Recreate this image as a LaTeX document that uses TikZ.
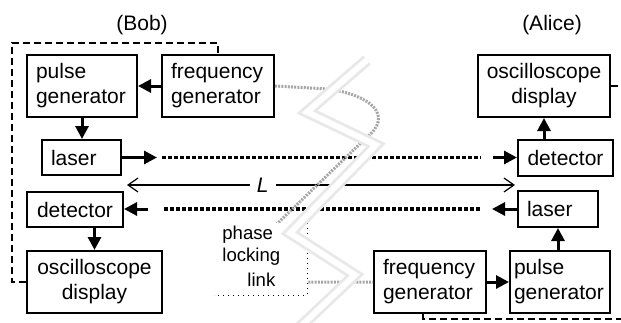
\documentclass[tikz,border=0pt]{standalone}
\usepackage{fontspec}
\setmainfont{Liberation Sans}
\usetikzlibrary{arrows.meta,positioning}

\begin{document}
\begin{tikzpicture}
	[x=0.5pt,y=-0.5pt,
	box/.style={draw=black,line width=1pt,inner ysep=0pt,inner xsep=4.5pt,
		minimum height=31pt,font=\fontsize{10.5}{12.5}\selectfont},
	lbox/.style={box,align=left,text width=#1},
	cbox/.style={box,align=center,minimum width=#1},
	arr/.style={line width=1.5pt,-{Triangle[length=6.5pt,width=6.5pt]}},
	fiber/.style={line width=1.6pt,dash pattern=on 2pt off 1pt},
	lock/.style={gray!70,line width=1.5pt,dash pattern=on 1pt off 0.6pt},
	feedback/.style={line width=1pt,dash pattern=on 3.5pt off 2pt},
	dimarr/.style={line width=0.6pt,{Straight Barb[length=5pt,width=7pt]}-{Straight Barb[length=5pt,width=7pt]}},
	zig/.style={gray!18,line width=1.4pt,double=white,double distance=3pt,line join=miter},
	lbl/.style={font=\fontsize{10.5}{12.5}\selectfont},
	linktext/.style={font=\fontsize{9.3}{11}\selectfont,inner sep=0pt,anchor=west}]
	\useasboundingbox (0,0) rectangle (621,322);

	% Bob
	\node[lbl] (bob) at (142,25) {(Bob)};
	\node[lbox=46pt] (bpg) at (82,86) {pulse\\generator};
	\node[lbox=47pt] (bfg) at (218,86) {frequency\\generator};
	\node[lbox=30.5pt,minimum height=17.5pt] (blas) at (81.5,157.5) {laser};
	\node[cbox=48pt,minimum height=17.5pt] (bdet) at (75,209.5) {detector};
	\node[cbox=67.5pt] (bosc) at (94.5,282) {oscilloscope\\display};

	% Alice
	\node[lbl] (alice) at (552,25) {(Alice)};
	\node[cbox=63pt] (aosc) at (544,86) {oscilloscope\\display};
	\node[cbox=47.5pt,minimum height=18pt] (adet) at (565.5,158) {detector};
	\node[lbox=31pt,minimum height=18pt] (alas) at (558,209) {laser};
	\node[lbox=46pt,inner xsep=2pt] (apg) at (560,282) {pulse\\generator};
	\node[lbox=47pt] (afg) at (430,282) {frequency\\generator};

	\draw[arr] (bfg.west) -- (bpg.east);
	\draw[arr] (bpg.south) -- (bpg.south |- blas.north);
	\draw[arr] (bdet.south -| bosc.north) -- (bosc.north);
	\draw[arr] (adet.north -| aosc.south) -- (aosc.south);
	\draw[arr] (apg.north -| alas.south) -- (alas.south);
	\draw[arr] (afg.east) -- (apg.west);

	% fibre links
	\coordinate (f1) at (157,157.5);
	\coordinate (f2) at (162,157.5);
	\coordinate (f3) at (481,157.5);
	\coordinate (f4) at (493,157.5);
	\draw[arr] (blas.east) -- (f1);
	\draw[fiber] (f2) -- (f3);
	\draw[arr] (f4) -- (f4 -| adet.west);
	\coordinate (r1) at (492,209);
	\coordinate (r2) at (480,209);
	\coordinate (r3) at (163,209);
	\coordinate (r4) at (148,209);
	\draw[arr] (alas.west) -- (r1);
	\draw[fiber] (r2) -- (r3);
	\draw[arr] (r4) -- (r4 -| bdet.east);

	\coordinate (l1) at (127,185);
	\coordinate (l2) at (515,185);
	\draw[dimarr] (l1) -- node[pos=0.35,fill=white,lbl,inner xsep=3.5pt,inner ysep=1pt]{\itshape L} (l2);

	% feedback
	\coordinate (fbB) at (12,43);
	\draw[feedback] (bosc.west) -| (fbB) -| (bfg.north);
	\coordinate (fbA) at (621,86);
	\draw[feedback] (aosc.east) -- (fbA);
	\coordinate (fbA2) at (621,319);
	\draw[feedback] ([xshift=-3.5pt]afg.south) |- (fbA2);

	% phase locking link
	\draw[lock] (bfg.east) -- (328,89) .. controls (370,95) and (395,115) .. (366,138) -- (255,245) |- (afg.west);
	\coordinate (plA) at (307,223);
	\coordinate (plB) at (214,295);
	\fill[white] (plB) rectangle (plA);
	\draw[line width=0.5pt,dotted] (plA) |- (plB);
	\node[linktext] (ph1) at (222,235) {phase};
	\node[linktext] (ph2) at (222,257) {locking};
	\node[linktext] (ph3) at (247,280) {link};

	\draw[zig] (367,60) -- (307,112) -- (376,145) -- (290,233) -- (355,275) -- (300,327);
\end{tikzpicture}
\end{document}
